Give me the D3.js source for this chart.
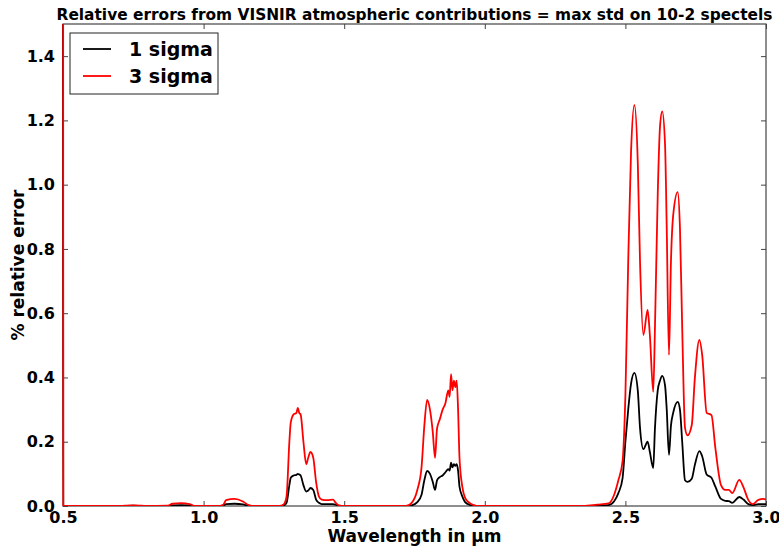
<!DOCTYPE html>
<html>
<head>
<meta charset="utf-8">
<script src="https://cdn.jsdelivr.net/npm/d3@7"></script>
<style>
  html, body { margin: 0; padding: 0; background: #fff; }
  svg text { font-family: "DejaVu Sans", sans-serif; font-weight: bold; }
</style>
</head>
<body>
<svg id="chart" width="779" height="547"></svg>
<script>
const titleText = "Relative errors from VISNIR atmospheric contributions = max std on 10-2 spectels";
const xLabel = "Wavelength in µm";
const yLabel = "% relative error";
const seriesNames = ["1 sigma", "3 sigma"];
const seriesColors = ["#000000", "#ff0000"];
const xTicks = [0.5, 1.0, 1.5, 2.0, 2.5, 3.0];
const yTicks = [0.0, 0.2, 0.4, 0.6, 0.8, 1.0, 1.2, 1.4];

const wavelength = [0.5, 0.501, 0.55, 0.70, 0.72, 0.75, 0.78, 0.80, 0.87, 0.89, 0.92, 0.95, 0.97,
  1.05, 1.07, 1.08, 1.11, 1.14, 1.16, 1.18, 1.27, 1.285, 1.295, 1.305, 1.31, 1.32, 1.33, 1.335, 1.34,
  1.345, 1.355, 1.365, 1.372, 1.38, 1.39, 1.40, 1.41, 1.42, 1.44, 1.46, 1.47, 1.48, 1.50,
  1.72, 1.74, 1.76, 1.775, 1.785, 1.795, 1.805, 1.815, 1.823, 1.83, 1.84, 1.85, 1.86, 1.87, 1.875,
  1.88, 1.885, 1.89, 1.895, 1.90, 1.905, 1.91, 1.92, 1.93, 1.945, 1.96, 1.98,
  2.35, 2.40, 2.44, 2.46, 2.475, 2.49, 2.50, 2.51, 2.52, 2.532, 2.544, 2.552, 2.564, 2.579, 2.587,
  2.599, 2.605, 2.615, 2.623, 2.631, 2.641, 2.647, 2.655, 2.662, 2.670, 2.686, 2.694, 2.702, 2.712,
  2.721, 2.736, 2.747, 2.763, 2.773, 2.789, 2.806, 2.82, 2.84, 2.855, 2.868, 2.88, 2.905, 2.92,
  2.937, 2.953, 2.973, 2.99, 3.0];

const sigma3 = [3.0, 0, 0, 0, 0.001, 0.002, 0.001, 0, 0.001, 0.007, 0.009, 0.006, 0,
  0, 0.004, 0.018, 0.022, 0.014, 0.003, 0, 0, 0.005, 0.03, 0.2, 0.26, 0.285, 0.29, 0.305, 0.29,
  0.285, 0.2, 0.13, 0.15, 0.168, 0.15, 0.075, 0.03, 0.02, 0.018, 0.02, 0.01, 0.002, 0,
  0, 0.01, 0.05, 0.12, 0.25, 0.33, 0.3, 0.23, 0.15, 0.24, 0.27, 0.3, 0.32, 0.36, 0.34,
  0.41, 0.36, 0.39, 0.37, 0.39, 0.3, 0.15, 0.06, 0.025, 0.01, 0.003, 0,
  0, 0.004, 0.008, 0.035, 0.08, 0.14, 0.345, 0.76, 1.1, 1.248, 1.07, 0.76, 0.532, 0.61, 0.532,
  0.355, 0.55, 0.97, 1.18, 1.228, 1.124, 0.865, 0.47, 0.76, 0.905, 0.977, 0.865, 0.554, 0.243,
  0.22, 0.252, 0.398, 0.517, 0.47, 0.29, 0.283, 0.18, 0.065, 0.05, 0.05, 0.04, 0.081, 0.058,
  0.019, 0.006, 0.019, 0.022, 0.02];

const sigma1 = [1.6, 0, 0, 0, 0.0005, 0.001, 0.0003, 0, 0, 0.002, 0.003, 0.002, 0,
  0, 0.001, 0.006, 0.007, 0.005, 0.001, 0, 0, 0.002, 0.01, 0.065, 0.088, 0.095, 0.097, 0.1, 0.098,
  0.095, 0.065, 0.045, 0.048, 0.056, 0.05, 0.02, 0.01, 0.006, 0.006, 0.006, 0.004, 0.001, 0,
  0, 0.002, 0.012, 0.035, 0.08, 0.109, 0.1, 0.075, 0.05, 0.08, 0.09, 0.095, 0.105, 0.115, 0.11,
  0.135, 0.12, 0.13, 0.125, 0.13, 0.11, 0.06, 0.03, 0.012, 0.004, 0.001, 0,
  0, 0.001, 0.003, 0.015, 0.04, 0.087, 0.2, 0.3, 0.38, 0.414, 0.36, 0.243, 0.177, 0.2, 0.168,
  0.118, 0.24, 0.36, 0.39, 0.405, 0.375, 0.3, 0.159, 0.25, 0.29, 0.324, 0.3, 0.2, 0.08,
  0.075, 0.085, 0.128, 0.171, 0.155, 0.098, 0.088, 0.06, 0.022, 0.016, 0.015, 0.01, 0.028, 0.02,
  0.006, 0.003, 0.006, 0.006, 0.006];

const W = 779, H = 547;
const margin = {left: 63, right: 13, top: 24, bottom: 41};
const iw = W - margin.left - margin.right;
const ih = H - margin.top - margin.bottom;

const svg = d3.select("#chart");
const g = svg.append("g").attr("transform", `translate(${margin.left},${margin.top})`);

const x = d3.scaleLinear().domain([0.5, 3.0]).range([0, iw]);
const y = d3.scaleLinear().domain([0, 1.5]).range([ih, 0]);

svg.append("defs").append("clipPath").attr("id", "clip")
  .append("rect").attr("x", -3).attr("y", 0).attr("width", iw + 3).attr("height", ih);

// axes (ticks inside, on all four sides)
const fmt = d3.format(".1f");
const axStyle = sel => {
  sel.select(".domain").remove();
  sel.selectAll(".tick line").attr("stroke", "#444").attr("stroke-width", 1);
  sel.selectAll(".tick text").attr("font-size", 16).attr("fill", "#000")
    .style("font-family", "'DejaVu Sans', sans-serif").style("font-weight", "bold");
};
g.append("g").attr("transform", `translate(0,${ih})`)
  .call(d3.axisBottom(x).tickValues(xTicks).tickFormat(fmt).tickSizeInner(-5).tickSizeOuter(0).tickPadding(6))
  .call(axStyle);
g.append("g")
  .call(d3.axisTop(x).tickValues(xTicks).tickFormat("").tickSizeInner(-5).tickSizeOuter(0))
  .call(axStyle);
g.append("g")
  .call(d3.axisLeft(y).tickValues(yTicks).tickFormat(fmt).tickSizeInner(-5).tickSizeOuter(0).tickPadding(8))
  .call(axStyle);
g.append("g").attr("transform", `translate(${iw},0)`)
  .call(d3.axisRight(y).tickValues(yTicks).tickFormat("").tickSizeInner(-5).tickSizeOuter(0))
  .call(axStyle);

// frame
g.append("rect").attr("x", 0).attr("y", 0).attr("width", iw).attr("height", ih)
  .attr("fill", "none").attr("stroke", "#444").attr("stroke-width", 1.2);

// lines (drawn above frame)
const series = [sigma1, sigma3];
const line = d3.line().x(d => x(d[0])).y(d => y(d[1])).curve(d3.curveMonotoneX);
const lg = g.append("g").attr("clip-path", "url(#clip)");
series.forEach((s, i) => {
  const pts = wavelength.map((w, k) => [w, s[k]]);
  lg.append("path").datum(pts)
    .attr("d", line)
    .attr("fill", "none")
    .attr("stroke", seriesColors[i])
    .attr("stroke-width", 1.8)
    .attr("stroke-linejoin", "round");
});

// title
svg.append("text").attr("x", margin.left + iw / 2).attr("y", 20)
  .attr("text-anchor", "middle").attr("font-size", 15.4).text(titleText);

// axis labels
svg.append("text").attr("x", margin.left + iw / 2).attr("y", 542)
  .attr("text-anchor", "middle").attr("font-size", 17).text(xLabel);
svg.append("text").attr("transform", `translate(24,${margin.top + ih / 2}) rotate(-90)`)
  .attr("text-anchor", "middle").attr("font-size", 17).text(yLabel);

// legend
const leg = svg.append("g").attr("transform", "translate(70,33)");
leg.append("rect").attr("x", 0).attr("y", 0).attr("width", 148).attr("height", 61)
  .attr("fill", "#fff").attr("stroke", "#222").attr("stroke-width", 1);
seriesNames.forEach((n, i) => {
  const yy = 16 + i * 27;
  leg.append("line").attr("x1", 13).attr("x2", 41).attr("y1", yy).attr("y2", yy)
    .attr("stroke", seriesColors[i]).attr("stroke-width", 1.8);
  leg.append("text").attr("x", 59).attr("y", yy + 7).attr("font-size", 19).text(n);
});
</script>
</body>
</html>
